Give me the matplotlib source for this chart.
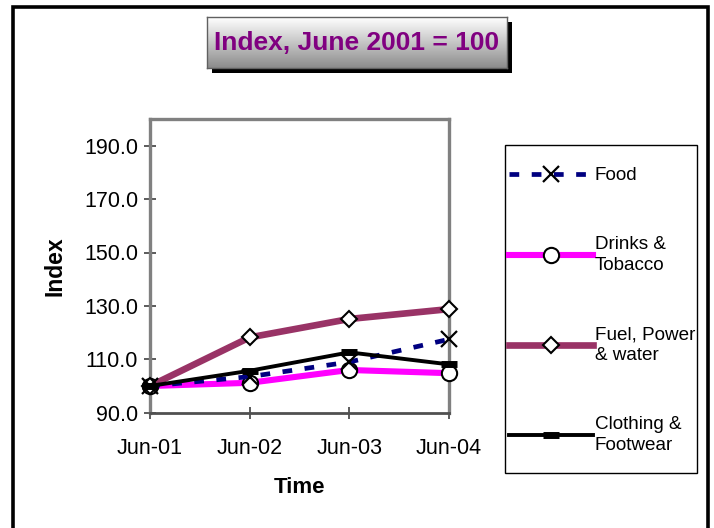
import matplotlib
matplotlib.use("Agg")
import matplotlib.pyplot as plt
import matplotlib.patches as mpatches
from matplotlib.colors import LinearSegmentedColormap
import numpy as np

plt.rcParams['font.family'] = ['Liberation Sans', 'DejaVu Sans']
plt.rcParams['lines.scale_dashes'] = False

# ---- data ----
periods = ["Jun-01", "Jun-02", "Jun-03", "Jun-04"]
food = [100.0, 103.5, 109.0, 117.5]
drinks = [100.0, 101.2, 106.0, 104.8]
fuel = [100.0, 118.2, 125.1, 128.8]
clothing = [100.0, 105.7, 112.6, 108.1]
series_labels = ["Food", "Drinks &\nTobacco", "Fuel, Power\n& water", "Clothing &\nFootwear"]
y_ticks = [90.0, 110.0, 130.0, 150.0, 170.0, 190.0]
title_text = "Index, June 2001 = 100"

W, H = 714, 528
fig = plt.figure(figsize=(W / 100, H / 100), dpi=100)
fig.patch.set_facecolor('white')

def fx(px):
    return px / W

def fy(py):
    return 1 - py / H

# outer frame
frame = mpatches.Rectangle((fx(13.5), -0.05), fx(707.5) - fx(13.5), fy(7) + 0.05,
                           transform=fig.transFigure, fill=False, edgecolor='black',
                           linewidth=2.6, zorder=0)
fig.patches.append(frame)

# main axes
ax = fig.add_axes([fx(150), fy(412.7), fx(449) - fx(150), fy(119) - fy(412.7)])
x = np.arange(len(periods))

ax.plot(x, food, color='#000080', linewidth=3.4, dashes=(7, 9),
        marker='x', markersize=11, markeredgecolor='black', markeredgewidth=1.6,
        label=series_labels[0], clip_on=False, zorder=4)
ax.plot(x, drinks, color='#FF00FF', linewidth=4.4,
        marker='o', markersize=11, markerfacecolor='white', markeredgecolor='black',
        markeredgewidth=1.5, label=series_labels[1], clip_on=False, zorder=3)
ax.plot(x, fuel, color='#993366', linewidth=4.8,
        marker='D', markersize=8.5, markerfacecolor='white', markeredgecolor='black',
        markeredgewidth=1.5, label=series_labels[2], clip_on=False, zorder=3)
ax.plot(x, clothing, color='black', linewidth=2.8,
        marker='_', markersize=12, markeredgecolor='black', markeredgewidth=5,
        label=series_labels[3], clip_on=False, zorder=5)

ax.set_xlim(0, 3)
ax.set_ylim(90, 200)
ax.set_xticks(x)
ax.set_xticklabels(periods)
ax.set_yticks(y_ticks)
ax.set_yticklabels([f"{v:.1f}" for v in y_ticks])
ax.tick_params(axis='both', labelsize=15.5, direction='inout', length=9, width=1.2,
               color='#404040')
ax.tick_params(axis='y', pad=4)
ax.tick_params(axis='x', pad=14)

for side in ['top', 'right', 'left']:
    ax.spines[side].set_color('#808080')
    ax.spines[side].set_linewidth(2.4)
ax.spines['bottom'].set_color('#505050')
ax.spines['bottom'].set_linewidth(2.0)

ax.set_ylabel("Index", fontsize=16.5, fontweight='bold', labelpad=13)
ax.set_xlabel("Time", fontsize=16, fontweight='bold', labelpad=13)

# legend box (drawn as a patch) and legend content
legbox = mpatches.Rectangle((fx(505), fy(473)), fx(697) - fx(505), fy(145) - fy(473),
                            transform=fig.transFigure, facecolor='white', edgecolor='black',
                            linewidth=1.0, zorder=1)
fig.patches.append(legbox)
leg = fig.legend(loc='upper left', bbox_to_anchor=(fx(509), fy(167)),
                 bbox_transform=fig.transFigure, fontsize=13.6, frameon=False,
                 handlelength=4.45, handletextpad=0.1, labelspacing=2.75,
                 borderpad=0, borderaxespad=0)
leg.set_zorder(3)
for t in leg.get_texts():
    t.set_linespacing(1.3)

# title box with shadow and gradient
bx0, by0, bx1, by1 = 207, 17, 507, 68
shadow = mpatches.Rectangle((fx(bx0 + 5), fy(by1 + 5)), fx(bx1) - fx(bx0), fy(by0) - fy(by1),
                            transform=fig.transFigure, facecolor='black', edgecolor='none',
                            zorder=1)
fig.patches.append(shadow)
tax = fig.add_axes([fx(bx0), fy(by1), fx(bx1) - fx(bx0), fy(by0) - fy(by1)], zorder=2)
grad = np.linspace(0, 1, 100).reshape(-1, 1)
cmap = LinearSegmentedColormap.from_list('g', ['#ffffff', '#8c8c8c'])
tax.imshow(grad, aspect='auto', cmap=cmap, extent=[0, 1, 0, 1], origin='upper')
tax.set_xticks([])
tax.set_yticks([])
for s in tax.spines.values():
    s.set_color('#606060')
    s.set_linewidth(1.0)
tax.text(0.5, 0.5, title_text, transform=tax.transAxes, ha='center', va='center',
         fontsize=19, fontweight='bold', color='#800080')

fig.savefig("out.png", dpi=100, facecolor='white')
